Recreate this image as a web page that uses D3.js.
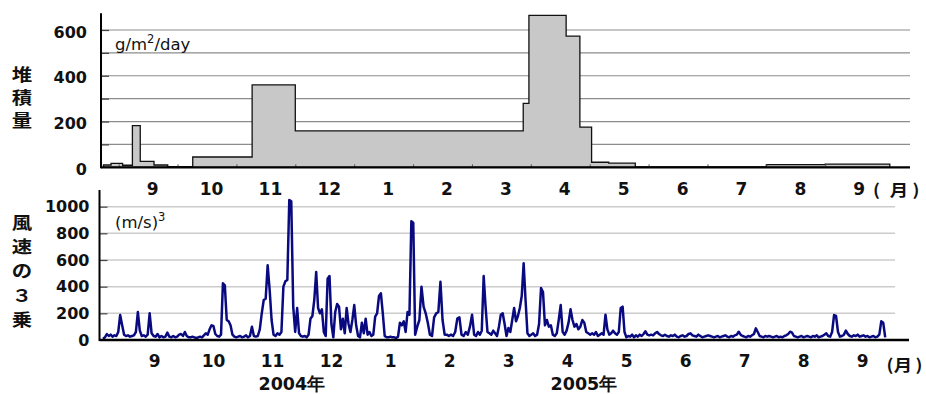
<!DOCTYPE html>
<html>
<head>
<meta charset="utf-8">
<script src="https://cdn.jsdelivr.net/npm/d3@7"></script>
<style>
  html, body { margin: 0; padding: 0; background: #fff; }
  svg { display: block; }
</style>
</head>
<body>
<svg id="chart" width="926" height="394"></svg>
<script>
// ---------- data ----------
// month tick labels, Sep 2004 .. Sep 2005
const monthLabels = ["9", "10", "11", "12", "1", "2", "3", "4", "5", "6", "7", "8", "9"];
const yearLabels = ["2004年", "2005年"];

// deposition (g/m2/day): each sampling period starts at depoStart[i]
const depoStart = ["2004-08-24", "2004-08-28", "2004-09-03", "2004-09-08", "2004-09-12",
  "2004-09-19", "2004-09-26", "2004-10-09", "2004-11-09", "2004-12-01", "2005-03-28",
  "2005-03-31", "2005-04-19", "2005-04-26", "2005-05-02", "2005-05-11", "2005-05-25",
  "2005-08-01", "2005-09-01"];
const depoEnd = "2005-10-04";
const depoValues = [10, 17, 9, 182, 26, 10, 3, 45, 360, 159, 279, 664, 573, 176, 22, 18, 2, 12, 14];
const depoTicks = [0, 200, 400, 600];
const depoGrid = [100, 200, 300, 400, 500, 600];

// daily cube of wind speed ((m/s)^3)
const windAug04 = [10, 20, 45, 30, 40, 25, 35, 30, 60];               // from Aug 23
const windSep04 = [187, 112, 40, 30, 35, 25, 30, 35, 60, 210, 70, 30, 35, 25, 40, 200, 50, 30, 25, 45,
  20, 30, 20, 25, 55, 25, 20, 30, 20, 25];
const windOct04 = [40, 45, 30, 60, 30, 20, 20, 25, 20, 15, 20, 25, 20, 35, 50, 40, 80, 110, 105, 45,
  30, 25, 40, 425, 410, 150, 140, 110, 40, 25, 20];
const windNov04 = [25, 30, 20, 25, 35, 20, 30, 100, 30, 25, 30, 80, 200, 300, 310, 560, 380, 150, 40, 30,
  50, 40, 60, 400, 440, 450, 1050, 1040, 250, 60];
const windDec04 = [240, 50, 30, 25, 30, 20, 40, 160, 180, 300, 510, 240, 200, 230, 60, 30, 460, 480, 120, 20,
  210, 270, 250, 80, 160, 50, 240, 120, 60, 150, 262];
const windJan05 = [110, 30, 20, 130, 50, 160, 40, 60, 30, 40, 175, 200, 330, 350, 200, 30, 20, 20, 25, 20,
  20, 15, 25, 130, 110, 140, 60, 210, 190, 890, 880];
const windFeb05 = [40, 100, 150, 400, 250, 200, 130, 40, 30, 170, 200, 210, 437, 150, 40, 40, 30, 40, 30, 60,
  160, 170, 40, 30, 60, 40, 100, 190];
const windMar05 = [40, 30, 60, 40, 70, 480, 250, 60, 50, 40, 70, 50, 30, 100, 190, 200, 120, 30, 90, 60,
  150, 240, 140, 180, 240, 330, 575, 300, 50, 30, 40];
const windApr05 = [50, 30, 40, 120, 390, 360, 110, 150, 100, 110, 40, 30, 50, 150, 262, 60, 40, 70, 130, 230,
  150, 100, 120, 80, 100, 150, 130, 60, 50, 40];
const windMay05 = [50, 40, 60, 30, 40, 50, 40, 190, 80, 40, 50, 70, 50, 40, 60, 240, 250, 60, 20, 30,
  25, 40, 20, 35, 25, 40, 30, 45, 65, 40, 35];
const windJun05 = [40, 35, 50, 60, 45, 35, 30, 40, 30, 25, 35, 30, 40, 25, 20, 30, 35, 25, 30, 45,
  50, 35, 30, 25, 40, 30, 20, 25, 30, 35];
const windJul05 = [30, 25, 20, 25, 30, 20, 25, 30, 35, 25, 20, 30, 25, 35, 40, 62, 40, 30, 25, 20,
  30, 25, 35, 45, 87, 60, 30, 25, 20, 30, 25];
const windAug05 = [30, 25, 20, 25, 30, 20, 25, 20, 30, 35, 45, 62, 55, 30, 25, 20, 25, 30, 20, 25,
  30, 25, 20, 30, 25, 35, 20, 25, 30, 40, 50];
const windSep05 = [30, 25, 60, 187, 180, 60, 25, 30, 40, 70, 45, 30, 25, 35, 30, 40, 25, 30, 35, 25,
  30, 20, 25, 30, 20, 25, 40, 140, 130, 20];
const windStarts = ["2004-08-23", "2004-09-01", "2004-10-01", "2004-11-01", "2004-12-01", "2005-01-01",
  "2005-02-01", "2005-03-01", "2005-04-01", "2005-05-01", "2005-06-01", "2005-07-01", "2005-08-01", "2005-09-01"];
const windBlocks = [windAug04, windSep04, windOct04, windNov04, windDec04, windJan05, windFeb05,
  windMar05, windApr05, windMay05, windJun05, windJul05, windAug05, windSep05];
const windTicks = [0, 200, 400, 600, 800, 1000];

// ---------- helpers ----------
const parse = d3.timeParse("%Y-%m-%d");
// position in month units, each month the same width; 0 = 1 Sep 2004
function monthPos(date) {
  const y = date.getFullYear(), mo = date.getMonth(), d = date.getDate();
  const dim = new Date(y, mo + 1, 0).getDate();
  return (y - 2004) * 12 + (mo - 8) + (d - 1) / dim;
}

const svg = d3.select("#chart");
svg.append("rect").attr("width", 926).attr("height", 394).attr("fill", "#fff");

const numFont = "'DejaVu Sans', 'Liberation Sans', sans-serif";
const cjkFont = "'Noto Sans CJK JP', 'DejaVu Sans', sans-serif";

// ---------- upper panel: deposition ----------
const xTop = d3.scaleLinear().domain([-0.3, 13.44]).range([101, 910]);
const yTop = d3.scaleLinear().domain([0, 673]).range([167.3, 13.3]);

const gTop = svg.append("g");
gTop.selectAll("line.grid").data(depoGrid).join("line")
  .attr("x1", xTop.range()[0]).attr("x2", 910)
  .attr("y1", d => yTop(d)).attr("y2", d => yTop(d))
  .attr("stroke", "#8c8c8c").attr("stroke-width", 1.2);

const depoPts = depoValues.map((v, i) => ({ m: monthPos(parse(depoStart[i])), v }));
depoPts.push({ m: monthPos(parse(depoEnd)), v: depoValues[depoValues.length - 1] });
const area = d3.area().curve(d3.curveStepAfter)
  .x(d => xTop(d.m)).y0(yTop(0)).y1(d => yTop(d.v));
gTop.append("path").datum(depoPts).attr("d", area)
  .attr("fill", "#c8c8c8").attr("stroke", "#111").attr("stroke-width", 1.3)
  .attr("stroke-linejoin", "miter");

// inward ticks on the value axis
gTop.append("g").attr("transform", `translate(${xTop.range()[0]},0)`)
  .call(d3.axisRight(yTop).tickValues(depoGrid).tickSize(8).tickFormat(""))
  .call(g => g.select(".domain").remove())
  .call(g => g.selectAll("line").attr("stroke", "#444").attr("stroke-width", 1.2));
// value labels
gTop.append("g").attr("transform", `translate(${xTop.range()[0]},2)`)
  .call(d3.axisLeft(yTop).tickValues(depoTicks).tickSize(0).tickPadding(14).tickFormat(d3.format("d")))
  .call(g => g.select(".domain").remove())
  .call(g => g.selectAll("text").attr("font-family", numFont).attr("font-weight", "bold")
    .attr("font-size", 16).attr("fill", "#111"));
// month ticks and labels
gTop.append("g").attr("transform", `translate(0,${yTop(0)})`)
  .call(d3.axisBottom(xTop).tickValues(d3.range(0, 13)).tickSize(-3).tickFormat(""))
  .call(g => g.select(".domain").remove())
  .call(g => g.selectAll("line").attr("stroke", "#555"));
gTop.selectAll("text.mon").data(monthLabels).join("text")
  .attr("x", (d, i) => xTop(i + 0.577)).attr("y", 195)
  .attr("text-anchor", "middle").attr("font-family", numFont).attr("font-weight", "bold")
  .attr("font-size", 17).attr("fill", "#111").text(d => d);
// axis lines
gTop.append("line").attr("x1", xTop.range()[0]).attr("x2", xTop.range()[0])
  .attr("y1", yTop.range()[1]).attr("y2", yTop(0) + 1)
  .attr("stroke", "#000").attr("stroke-width", 2);
gTop.append("line").attr("x1", xTop.range()[0]).attr("x2", xTop.range()[1])
  .attr("y1", yTop(0)).attr("y2", yTop(0)).attr("stroke", "#000").attr("stroke-width", 2.2);

// unit
const uTop = gTop.append("text").attr("x", 115).attr("y", 50)
  .attr("font-family", numFont).attr("font-size", 16.5).attr("fill", "#111");
uTop.append("tspan").text("g/m");
uTop.append("tspan").attr("dy", -7).attr("font-size", 11.5).text("2");
uTop.append("tspan").attr("dy", 7).text("/day");

// ---------- lower panel: wind speed cubed ----------
const xBot = d3.scaleLinear().domain([-0.35, 13.37]).range([99.5, 909]);
const yBot = d3.scaleLinear().domain([0, 1125]).range([340, 190]);

const gBot = svg.append("g");
gBot.selectAll("line.grid").data(windTicks.slice(1)).join("line")
  .attr("x1", xBot.range()[0]).attr("x2", 895)
  .attr("y1", d => yBot(d)).attr("y2", d => yBot(d))
  .attr("stroke", "#cccccc").attr("stroke-width", 1.5);

const windPts = [];
windBlocks.forEach((vals, b) => {
  const s = parse(windStarts[b]);
  vals.forEach((v, i) => windPts.push({ m: monthPos(d3.timeDay.offset(s, i)), v }));
});
const line = d3.line().x(d => xBot(d.m)).y(d => yBot(d.v));
gBot.append("path").datum(windPts).attr("d", line)
  .attr("fill", "none").attr("stroke", "#0a0a80").attr("stroke-width", 2.5)
  .attr("stroke-linejoin", "round");

gBot.append("g").attr("transform", `translate(${xBot.range()[0]},0)`)
  .call(d3.axisRight(yBot).tickValues(windTicks.slice(1)).tickSize(8).tickFormat(""))
  .call(g => g.select(".domain").remove())
  .call(g => g.selectAll("line").attr("stroke", "#444").attr("stroke-width", 1.2));
gBot.append("g").attr("transform", `translate(${xBot.range()[0]},0)`)
  .call(d3.axisLeft(yBot).tickValues(windTicks).tickSize(0).tickPadding(10).tickFormat(d3.format("d")))
  .call(g => g.select(".domain").remove())
  .call(g => g.selectAll("text").attr("font-family", numFont).attr("font-weight", "bold")
    .attr("font-size", 16).attr("fill", "#111"));
gBot.selectAll("text.mon").data(monthLabels).join("text")
  .attr("x", (d, i) => xBot(i + 0.584)).attr("y", 366.5)
  .attr("text-anchor", "middle").attr("font-family", numFont).attr("font-weight", "bold")
  .attr("font-size", 17).attr("fill", "#111").text(d => d);
gBot.append("line").attr("x1", xBot.range()[0]).attr("x2", xBot.range()[0])
  .attr("y1", yBot.range()[1]).attr("y2", yBot(0) + 1)
  .attr("stroke", "#000").attr("stroke-width", 2);
gBot.append("line").attr("x1", xBot.range()[0]).attr("x2", xBot.range()[1])
  .attr("y1", yBot(0)).attr("y2", yBot(0)).attr("stroke", "#000").attr("stroke-width", 2.4);

const uBot = gBot.append("text").attr("x", 115).attr("y", 228)
  .attr("font-family", numFont).attr("font-size", 16.5).attr("fill", "#111");
uBot.append("tspan").text("(m/s)");
uBot.append("tspan").attr("dy", -7).attr("font-size", 11.5).text("3");

// year labels under the month axis
const yearPos = [2.91, 7.86];
gBot.selectAll("text.year").data(yearLabels).join("text")
  .attr("x", (d, i) => xBot(yearPos[i])).attr("y", 390)
  .attr("text-anchor", "middle").attr("font-family", numFont).attr("font-weight", "bold")
  .attr("font-size", 17.5).attr("fill", "#111").text(d => d);

// ---------- vertical titles and month unit ----------
function verticalTitle(chars, x, y0, step) {
  chars.forEach((c, i) => {
    svg.append("text")
      .attr("transform", `translate(${x},${y0 + i * step}) scale(1.2,1)`)
      .attr("text-anchor", "middle").attr("font-family", cjkFont).attr("font-weight", "bold")
      .attr("font-size", 17).attr("fill", "#111").text(c);
  });
}
verticalTitle(["堆", "積", "量"], 22, 81, 23);
verticalTitle(["風", "速", "の", "３", "乗"], 22, 229, 24.2);

function monthUnit(xs, y) {
  ["(", "月", ")"].forEach((c, i) => {
    svg.append("text").attr("transform", `translate(${xs[i]},${y}) scale(1.15,1)`)
      .attr("text-anchor", "middle").attr("font-family", cjkFont).attr("font-weight", "bold")
      .attr("font-size", 16).attr("fill", "#111").text(c);
  });
}
monthUnit([876.5, 899, 916], 196);
monthUnit([890, 903, 919], 371);
</script>
</body>
</html>
